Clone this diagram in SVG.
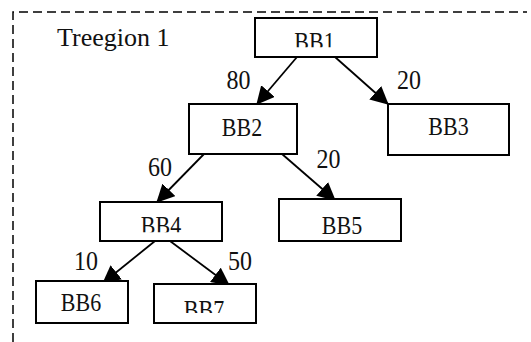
<svg xmlns="http://www.w3.org/2000/svg" width="531" height="342" viewBox="0 0 531 342">
<style>
.box{fill:#fff;stroke:#000;stroke-width:2}
.lbl{font-family:"Liberation Serif","Times New Roman",serif;font-size:22px;fill:#111;text-anchor:middle}
.num{font-family:"Liberation Serif","Times New Roman",serif;font-size:24px;fill:#111;text-anchor:middle}
.edge{stroke:#000;stroke-width:1.8;fill:none;marker-end:url(#ah)}
.border{stroke:#000;stroke-width:1.5;fill:none;stroke-dasharray:9 5}
</style>
<defs>
<marker id="ah" viewBox="0 0 18 18" refX="17" refY="9" markerWidth="18" markerHeight="18" markerUnits="userSpaceOnUse" orient="auto">
<path d="M0,0 L18,9 L0,18 z" fill="#000"/>
</marker>
<clipPath id="c1"><rect x="-70" y="-20" width="140" height="18"/></clipPath>
<clipPath id="c4"><rect x="-70" y="-20" width="140" height="18.5"/></clipPath>
<clipPath id="c7"><rect x="-70" y="-20" width="140" height="15.5"/></clipPath>
</defs>
<g id="region">
<path class="border" d="M13,342 L13,12 L527,12"/>
<text x="57" y="46" style="font-family:'Liberation Serif','Times New Roman',serif;font-size:26px;fill:#111">Treegion 1</text>
</g>
<g id="connectors">
<line class="edge" x1="297" y1="57" x2="257" y2="104"/>
<line class="edge" x1="335" y1="57" x2="388" y2="104"/>
<line class="edge" x1="204" y1="154" x2="157" y2="202"/>
<line class="edge" x1="282" y1="154" x2="335" y2="200"/>
<line class="edge" x1="155" y1="241" x2="103" y2="283"/>
<line class="edge" x1="170" y1="241" x2="229" y2="285"/>
<text class="num" transform="translate(238.5,89) scale(1,1.1)">80</text>
<text class="num" transform="translate(409,89) scale(1,1.1)">20</text>
<text class="num" transform="translate(160,176) scale(1,1.1)">60</text>
<text class="num" transform="translate(328.5,168) scale(1,1.1)">20</text>
<text class="num" transform="translate(86,270) scale(1,1.1)">10</text>
<text class="num" transform="translate(240,270) scale(1,1.1)">50</text>
</g>
<g id="BB1">
<rect class="box" x="255" y="18" width="122" height="39"/>
<text class="lbl" transform="translate(314.5,49.5) scale(1,1.1)" clip-path="url(#c1)">BB1</text>
</g>
<g id="BB2">
<rect class="box" x="189" y="104" width="108" height="50"/>
<text class="lbl" transform="translate(242,136) scale(1,1.1)">BB2</text>
</g>
<g id="BB3">
<rect class="box" x="388" y="104" width="121" height="51"/>
<text class="lbl" transform="translate(448.5,135) scale(1,1.1)">BB3</text>
</g>
<g id="BB4">
<rect class="box" x="100" y="202" width="122" height="39"/>
<text class="lbl" transform="translate(161,234) scale(1,1.1)" clip-path="url(#c4)">BB4</text>
</g>
<g id="BB5">
<rect class="box" x="279" y="199" width="122" height="42"/>
<text class="lbl" transform="translate(342,234) scale(1,1.1)">BB5</text>
</g>
<g id="BB6">
<rect class="box" x="36" y="281" width="92" height="42"/>
<text class="lbl" transform="translate(81,311) scale(1,1.1)">BB6</text>
</g>
<g id="BB7">
<rect class="box" x="154" y="284" width="102" height="39"/>
<text class="lbl" transform="translate(204,318) scale(1,1.1)" clip-path="url(#c7)">BB7</text>
</g>
</svg>
